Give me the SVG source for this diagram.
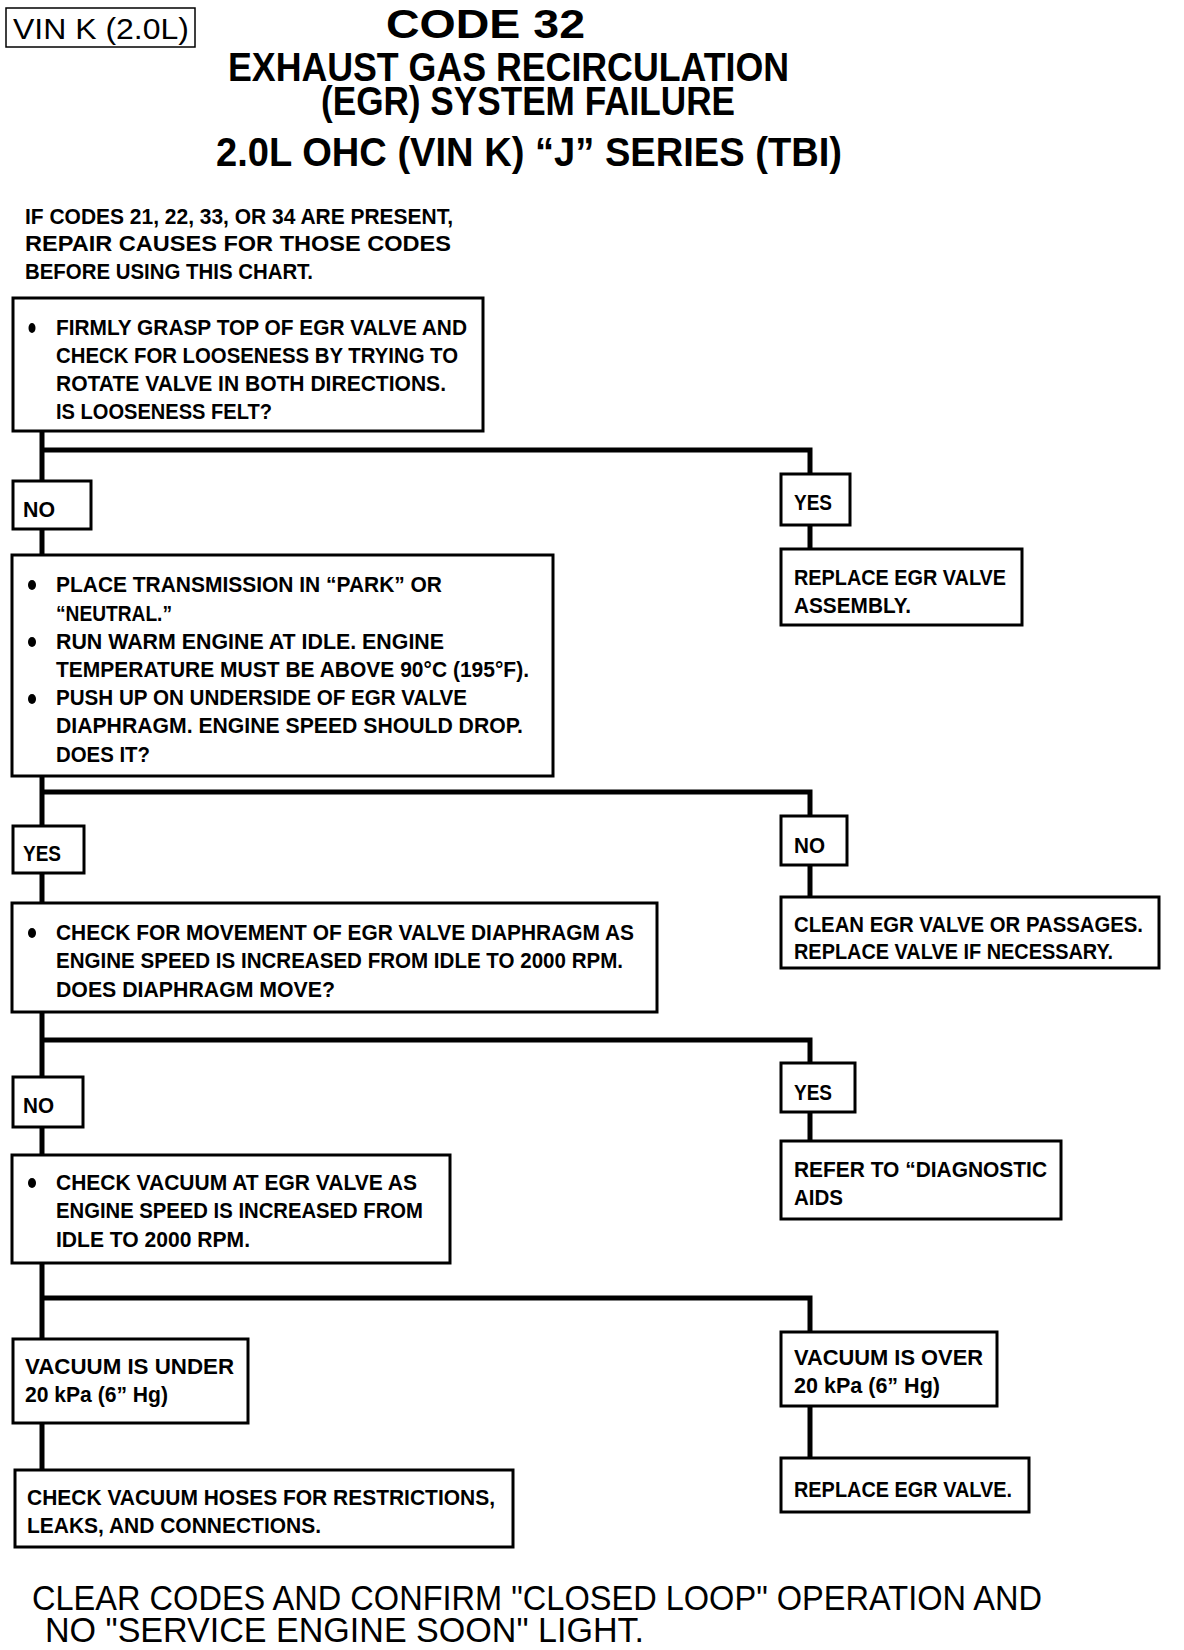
<svg xmlns="http://www.w3.org/2000/svg" width="1184" height="1650" viewBox="0 0 1184 1650">
<style>
.bg{fill:#fff}
.box{fill:#fff;stroke:#000;stroke-width:3}
.t{font-family:"Liberation Sans",Arial,sans-serif;font-weight:bold;font-size:22px;fill:#000}
.h{font-family:"Liberation Sans",Arial,sans-serif;font-weight:bold;font-size:40px;fill:#000}
.f{font-family:"Liberation Sans",Arial,sans-serif;font-size:35px;fill:#000}
.c{fill:none;stroke:#000;stroke-width:5}
.b{fill:#000}
</style>
<rect class="bg" x="0" y="0" width="1184" height="1650"/>

<g id="header">
<rect x="6" y="8" width="189" height="39" fill="#fff" stroke="#000" stroke-width="1.5"/>
<text x="13" y="39" font-family="Liberation Sans,Arial,sans-serif" font-size="29" textLength="176" lengthAdjust="spacingAndGlyphs">VIN K (2.0L)</text>
<text class="h" x="386" y="38" font-size="44" textLength="199" lengthAdjust="spacingAndGlyphs">CODE 32</text>
<text class="h" x="228" y="81" textLength="561" lengthAdjust="spacingAndGlyphs">EXHAUST GAS RECIRCULATION</text>
<text class="h" x="321" y="115" textLength="414" lengthAdjust="spacingAndGlyphs">(EGR) SYSTEM FAILURE</text>
<text class="h" x="216" y="166" textLength="626" lengthAdjust="spacingAndGlyphs">2.0L  OHC  (VIN K)  “J”  SERIES  (TBI)</text>
</g>

<g id="precondition">
<text class="t" x="25" y="224" textLength="428" lengthAdjust="spacingAndGlyphs">IF CODES 21, 22, 33, OR 34 ARE PRESENT,</text>
<text class="t" x="25" y="251" textLength="426" lengthAdjust="spacingAndGlyphs">REPAIR  CAUSES  FOR  THOSE  CODES</text>
<text class="t" x="25" y="279" textLength="288" lengthAdjust="spacingAndGlyphs">BEFORE USING THIS CHART.</text>
</g>

<g id="connectors">
<path class="c" d="M42 431V481M42 450H810V474M42 529V555M810 525V549"/>
<path class="c" d="M42 776V826M42 792H810V816M42 873V903M810 865V897"/>
<path class="c" d="M42 1012V1077M42 1040H810V1063M42 1127V1155M810 1112V1141"/>
<path class="c" d="M42 1263V1339M42 1298H810V1332M42 1423V1470M810 1406V1458"/>
</g>

<g id="n1">
<rect class="box" x="13" y="298" width="470" height="133"/>
<ellipse class="b" cx="32" cy="328" rx="3.5" ry="5"/>
<text class="t" x="56" y="335" textLength="411" lengthAdjust="spacingAndGlyphs">FIRMLY GRASP TOP OF EGR VALVE AND</text>
<text class="t" x="56" y="363" textLength="402" lengthAdjust="spacingAndGlyphs">CHECK FOR LOOSENESS BY TRYING TO</text>
<text class="t" x="56" y="391" textLength="390" lengthAdjust="spacingAndGlyphs">ROTATE VALVE IN BOTH DIRECTIONS.</text>
<text class="t" x="56" y="419" textLength="216" lengthAdjust="spacingAndGlyphs">IS LOOSENESS FELT?</text>
</g>

<g id="n1-no">
<rect class="box" x="13" y="481" width="78" height="48"/>
<text class="t" x="23" y="517" textLength="32" lengthAdjust="spacingAndGlyphs">NO</text>
</g>
<g id="n1-yes">
<rect class="box" x="781" y="474" width="69" height="51"/>
<text class="t" x="794" y="510" textLength="38" lengthAdjust="spacingAndGlyphs">YES</text>
</g>
<g id="n-replace-assembly">
<rect class="box" x="781" y="549" width="241" height="76"/>
<text class="t" x="794" y="585" textLength="212" lengthAdjust="spacingAndGlyphs">REPLACE EGR VALVE</text>
<text class="t" x="794" y="613" textLength="117" lengthAdjust="spacingAndGlyphs">ASSEMBLY.</text>
</g>

<g id="n2">
<rect class="box" x="12" y="555" width="541" height="221"/>
<ellipse class="b" cx="32" cy="585" rx="4" ry="5"/>
<ellipse class="b" cx="32" cy="642" rx="4" ry="5"/>
<ellipse class="b" cx="32" cy="699" rx="4" ry="5"/>
<text class="t" x="56" y="592" textLength="386" lengthAdjust="spacingAndGlyphs">PLACE TRANSMISSION IN “PARK” OR</text>
<text class="t" x="56" y="621" textLength="116" lengthAdjust="spacingAndGlyphs">“NEUTRAL.”</text>
<text class="t" x="56" y="649" textLength="388" lengthAdjust="spacingAndGlyphs">RUN WARM ENGINE AT IDLE.  ENGINE</text>
<text class="t" x="56" y="677" textLength="473" lengthAdjust="spacingAndGlyphs">TEMPERATURE MUST BE  ABOVE 90°C (195°F).</text>
<text class="t" x="56" y="705" textLength="411" lengthAdjust="spacingAndGlyphs">PUSH UP ON UNDERSIDE OF EGR VALVE</text>
<text class="t" x="56" y="733" textLength="467" lengthAdjust="spacingAndGlyphs">DIAPHRAGM.  ENGINE SPEED SHOULD DROP.</text>
<text class="t" x="56" y="762" textLength="94" lengthAdjust="spacingAndGlyphs">DOES IT?</text>
</g>

<g id="n2-yes">
<rect class="box" x="13" y="826" width="71" height="47"/>
<text class="t" x="23" y="861" textLength="38" lengthAdjust="spacingAndGlyphs">YES</text>
</g>
<g id="n2-no">
<rect class="box" x="781" y="816" width="66" height="49"/>
<text class="t" x="794" y="853" textLength="31" lengthAdjust="spacingAndGlyphs">NO</text>
</g>
<g id="n-clean">
<rect class="box" x="781" y="897" width="378" height="71"/>
<text class="t" x="794" y="932" textLength="349" lengthAdjust="spacingAndGlyphs">CLEAN EGR VALVE OR PASSAGES.</text>
<text class="t" x="794" y="959" textLength="319" lengthAdjust="spacingAndGlyphs">REPLACE VALVE IF NECESSARY.</text>
</g>

<g id="n3">
<rect class="box" x="12" y="903" width="645" height="109"/>
<ellipse class="b" cx="32" cy="933" rx="4" ry="5"/>
<text class="t" x="56" y="940" textLength="578" lengthAdjust="spacingAndGlyphs">CHECK FOR MOVEMENT OF EGR VALVE DIAPHRAGM AS</text>
<text class="t" x="56" y="968" textLength="567" lengthAdjust="spacingAndGlyphs">ENGINE SPEED IS INCREASED FROM IDLE TO 2000 RPM.</text>
<text class="t" x="56" y="997" textLength="279" lengthAdjust="spacingAndGlyphs">DOES DIAPHRAGM MOVE?</text>
</g>

<g id="n3-no">
<rect class="box" x="13" y="1077" width="70" height="50"/>
<text class="t" x="23" y="1113" textLength="31" lengthAdjust="spacingAndGlyphs">NO</text>
</g>
<g id="n3-yes">
<rect class="box" x="781" y="1063" width="74" height="49"/>
<text class="t" x="794" y="1100" textLength="38" lengthAdjust="spacingAndGlyphs">YES</text>
</g>
<g id="n-refer">
<rect class="box" x="781" y="1141" width="280" height="78"/>
<text class="t" x="794" y="1177" textLength="253" lengthAdjust="spacingAndGlyphs">REFER TO  “DIAGNOSTIC</text>
<text class="t" x="794" y="1205" textLength="49" lengthAdjust="spacingAndGlyphs">AIDS</text>
</g>

<g id="n4">
<rect class="box" x="12" y="1155" width="438" height="108"/>
<ellipse class="b" cx="32" cy="1183" rx="4" ry="5"/>
<text class="t" x="56" y="1190" textLength="361" lengthAdjust="spacingAndGlyphs">CHECK VACUUM AT EGR VALVE AS</text>
<text class="t" x="56" y="1218" textLength="367" lengthAdjust="spacingAndGlyphs">ENGINE SPEED IS INCREASED FROM</text>
<text class="t" x="56" y="1247" textLength="194" lengthAdjust="spacingAndGlyphs">IDLE TO 2000 RPM.</text>
</g>

<g id="n-under">
<rect class="box" x="13" y="1339" width="235" height="84"/>
<text class="t" x="25" y="1374" textLength="209" lengthAdjust="spacingAndGlyphs">VACUUM  IS  UNDER</text>
<text class="t" x="25" y="1402" textLength="143" lengthAdjust="spacingAndGlyphs">20 kPa (6” Hg)</text>
</g>
<g id="n-over">
<rect class="box" x="781" y="1332" width="216" height="74"/>
<text class="t" x="794" y="1365" textLength="189" lengthAdjust="spacingAndGlyphs">VACUUM IS  OVER</text>
<text class="t" x="794" y="1393" textLength="146" lengthAdjust="spacingAndGlyphs">20 kPa (6” Hg)</text>
</g>
<g id="n-hoses">
<rect class="box" x="15" y="1470" width="498" height="77"/>
<text class="t" x="27" y="1505" textLength="468" lengthAdjust="spacingAndGlyphs">CHECK VACUUM HOSES FOR RESTRICTIONS,</text>
<text class="t" x="27" y="1533" textLength="294" lengthAdjust="spacingAndGlyphs">LEAKS, AND CONNECTIONS.</text>
</g>
<g id="n-replace">
<rect class="box" x="781" y="1458" width="248" height="54"/>
<text class="t" x="794" y="1497" textLength="218" lengthAdjust="spacingAndGlyphs">REPLACE EGR VALVE.</text>
</g>

<g id="footer">
<text class="f" x="32" y="1610" textLength="1010" lengthAdjust="spacingAndGlyphs">CLEAR CODES AND CONFIRM "CLOSED LOOP" OPERATION AND</text>
<text class="f" x="45" y="1642" textLength="599" lengthAdjust="spacingAndGlyphs">NO "SERVICE    ENGINE SOON" LIGHT.</text>
</g>
</svg>
